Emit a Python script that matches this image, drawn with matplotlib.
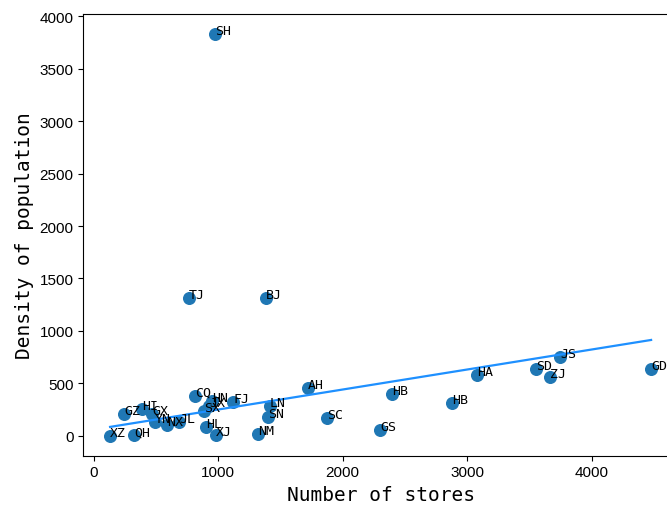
import numpy as np
import matplotlib.pyplot as plt

# province codes, number of stores, density of population
provinces = ["XZ", "QH", "GZ", "HI", "GX", "YN", "NX", "JL", "CQ", "SX",
             "HN", "JX", "HL", "XJ", "SH", "TJ", "BJ", "FJ", "NM", "LN",
             "SN", "AH", "SC", "GS", "HB", "HB", "HA", "SD", "ZJ", "JS", "GD"]
stores = [133, 327, 247, 389, 470, 494, 590, 687, 815, 888,
          952, 930, 904, 984, 976, 767, 1386, 1122, 1321, 1418,
          1402, 1723, 1875, 2301, 2398, 2879, 3080, 3554, 3667, 3747, 4478]
density = [3, 8, 205, 255, 210, 133, 105, 133, 381, 238,
           330, 290, 86, 12, 3829, 1314, 1314, 324, 19, 290,
           185, 457, 171, 57, 400, 314, 581, 638, 562, 752, 638]

# fitted line
fit_slope = 0.1906
fit_intercept = 61

x = np.array(stores, dtype=float)
y = np.array(density, dtype=float)

fig = plt.figure(figsize=(6.67, 5.10), dpi=100)
ax = fig.add_axes([0.1249, 0.1045, 0.8927, 0.866])

ax.scatter(x, y, s=70, color="#1f77b4", zorder=2)
xs = np.array([x.min(), x.max()])
ax.plot(xs, fit_slope * xs + fit_intercept, color="#1e90ff", linewidth=1.6, zorder=3)

for name, xi, yi in zip(provinces, x, y):
    ax.text(xi, yi, name, fontsize=9.5, family="DejaVu Sans Mono", zorder=4)

ax.set_xlim(-82, 4700)
ax.set_ylim(-188, 4019)
ax.set_xticks([0, 1000, 2000, 3000, 4000])
ax.set_yticks(range(0, 4001, 500))
for lab in ax.get_xticklabels() + ax.get_yticklabels():
    lab.set_family("Liberation Sans")
    lab.set_fontsize(11)

ax.set_xlabel("Number of stores", fontsize=14, family="DejaVu Sans Mono")
ax.set_ylabel("Density of population", fontsize=14, family="DejaVu Sans Mono")

fig.savefig("out.png", dpi=100)
